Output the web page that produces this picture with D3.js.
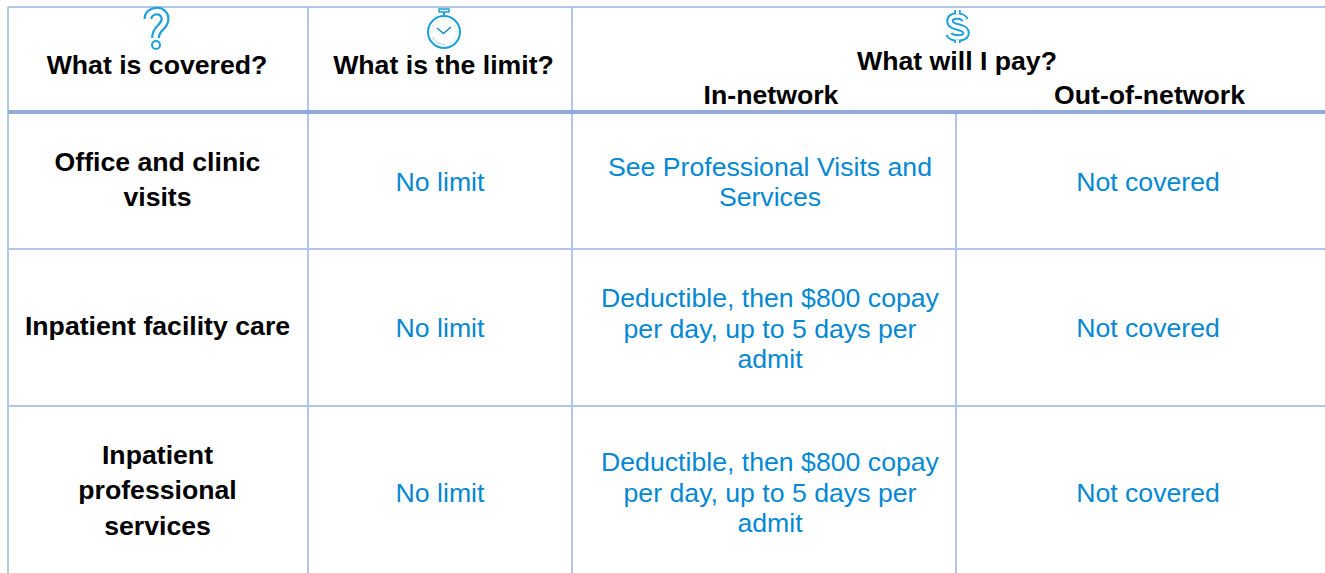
<!DOCTYPE html>
<html>
<head>
	<meta charset="utf-8">
	<title>Coverage table</title>
	<script src="https://cdn.jsdelivr.net/npm/d3@7"></script>
	<style>
		body { margin: 0; background: #fff; }
		svg { display: block; }
		text { font-family: "Liberation Sans", Arial, sans-serif; }
	</style>
</head>
<body>
	<div id="chart"></div>
	<script>
		const headers = ["What is covered?", "What is the limit?"];
		const payHeader = "What will I pay?";
		const subHeaders = ["In-network", "Out-of-network"];
		const covered = [
			["Office and clinic", "visits"],
			["Inpatient facility care"],
			["Inpatient", "professional", "services"]
		];
		const limits = ["No limit", "No limit", "No limit"];
		const inNetwork = [
			["See Professional Visits and", "Services"],
			["Deductible, then $800 copay", "per day, up to 5 days per", "admit"],
			["Deductible, then $800 copay", "per day, up to 5 days per", "admit"]
		];
		const outNetwork = ["Not covered", "Not covered", "Not covered"];

		const width = 1325, height = 573;
		const lineColor = "#b4c6e7", thickColor = "#8eaadb", blue = "#0588d2", iconBlue = "#1ea0d8";
		const colX = [8, 308, 572, 956, 1325];
		const rowY = [7, 112, 249, 406, 573];
		const fontSize = 26.67;

		const svg = d3.select("#chart").append("svg")
			.attr("width", width).attr("height", height)
			.attr("viewBox", [0, 0, width, height]);

		// grid
		const vLines = [
			{ x: colX[0], y1: rowY[0], y2: height },
			{ x: colX[1], y1: rowY[0], y2: height },
			{ x: colX[2], y1: rowY[0], y2: height },
			{ x: colX[3], y1: rowY[1], y2: height }
		];
		svg.append("g").selectAll("line").data(vLines).join("line")
			.attr("x1", d => d.x).attr("x2", d => d.x)
			.attr("y1", d => d.y1).attr("y2", d => d.y2)
			.attr("stroke", lineColor).attr("stroke-width", 2);
		svg.append("g").selectAll("line").data([rowY[0], rowY[2], rowY[3]]).join("line")
			.attr("x1", colX[0]).attr("x2", width)
			.attr("y1", d => d).attr("y2", d => d)
			.attr("stroke", lineColor).attr("stroke-width", 2);
		svg.append("line")
			.attr("x1", colX[0]).attr("x2", width)
			.attr("y1", rowY[1]).attr("y2", rowY[1])
			.attr("stroke", thickColor).attr("stroke-width", 4);

		function lines(x, ys, strs, weight, fill) {
			svg.append("g").selectAll("text").data(strs).join("text")
				.attr("x", x).attr("y", (d, i) => ys[i])
				.attr("text-anchor", "middle")
				.attr("font-size", fontSize).attr("font-weight", weight).attr("fill", fill)
				.text(d => d);
		}

		// headers
		lines(157, [74], [headers[0]], "bold", "#000");
		lines(443.5, [74], [headers[1]], "bold", "#000");
		lines(957, [70], [payHeader], "bold", "#000");
		lines(771, [104], [subHeaders[0]], "bold", "#000");
		lines(1149.5, [104], [subHeaders[1]], "bold", "#000");

		// body
		const coveredYs = [[171, 206], [335], [464, 499, 535]];
		const middleYs = [191, 337, 502];
		const inNetYs = [[176, 206], [307, 338, 368], [471, 502, 532]];
		covered.forEach((c, i) => lines(157.5, coveredYs[i], c, "bold", "#000"));
		limits.forEach((c, i) => lines(440, [middleYs[i]], [c], "normal", blue));
		inNetwork.forEach((c, i) => lines(770, inNetYs[i], c, "normal", blue));
		outNetwork.forEach((c, i) => lines(1148, [middleYs[i]], [c], "normal", blue));

		// icons, outlined look = wide blue stroke under a narrower white one
		const icon = svg.append("g").attr("fill", "none").attr("stroke", iconBlue).attr("stroke-width", 2);
		const qMark = "M148 19 C148 9 165 8 165 19 C165 28 155.5 27 155.5 38";
		icon.append("path").attr("d", qMark).attr("stroke-width", 9);
		icon.append("path").attr("d", qMark).attr("stroke-width", 4.5).attr("stroke", "#fff");
		icon.append("circle").attr("cx", 156).attr("cy", 45).attr("r", 4);

		icon.append("circle").attr("cx", 444).attr("cy", 32).attr("r", 16);
		icon.append("rect").attr("x", 439).attr("y", 9).attr("width", 10).attr("height", 3).attr("stroke-width", 1.5);
		icon.append("path").attr("d", "M444 12 V16");
		icon.append("path").attr("d", "M437 28 L443.5 33.5 L451 27").attr("stroke-width", 1.6).attr("stroke", "#1b8fc4");
		icon.append("path").attr("d", "M433 37 C435 42 439 44 445 45").attr("stroke-width", 1).attr("stroke", "#9fd4ee");
		icon.selectAll("line.tick").data(d3.range(12)).join("line")
			.attr("x1", d => 444 + 11.5 * Math.cos(d * Math.PI / 6))
			.attr("y1", d => 32 + 11.5 * Math.sin(d * Math.PI / 6))
			.attr("x2", d => 444 + 13.5 * Math.cos(d * Math.PI / 6))
			.attr("y2", d => 32 + 13.5 * Math.sin(d * Math.PI / 6))
			.attr("stroke-width", 0.8).attr("stroke", "#9fd4ee");

		const dollar = "M965 20 C963 15 950 14 950 21 C950 29 966 25 966 33 C966 40 951 39 949 34";
		const bars = "M957.5 10 V14 M957.5 40 V43";
		icon.append("path").attr("d", bars).attr("stroke-width", 6.5);
		icon.append("path").attr("d", dollar).attr("stroke-width", 7.5);
		icon.append("path").attr("d", bars).attr("stroke-width", 3).attr("stroke", "#fff");
		icon.append("path").attr("d", dollar).attr("stroke-width", 3.5).attr("stroke", "#fff");
	</script>
</body>
</html>
